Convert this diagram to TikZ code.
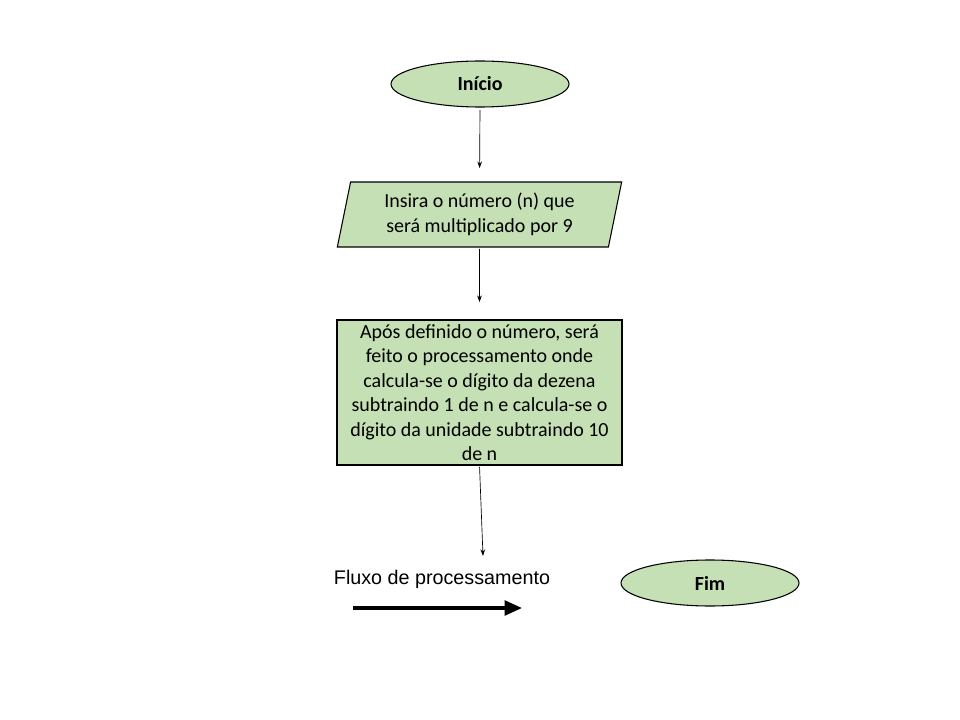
\documentclass[tikz,border=0pt]{standalone}
\usepackage{fontspec}
\setmainfont{Carlito}
\newfontfamily\legendfont{Liberation Sans}
\usetikzlibrary{shapes.geometric,arrows.meta}
\definecolor{boxgreen}{RGB}{197,224,180}

\begin{document}
\begin{tikzpicture}[
    x=0.75pt, y=-0.75pt,
    every node/.style={font=\fontsize{15}{18.4}\selectfont, align=center},
    terminal/.style={ellipse, draw=black, fill=boxgreen, line width=0.8pt,
        minimum width=133.5pt, minimum height=34.5pt, inner sep=0pt,
        font=\bfseries\fontsize{15}{18.4}\selectfont},
    inout/.style={trapezium, trapezium left angle=77, trapezium right angle=103,
        trapezium stretches=true, draw=black, fill=boxgreen, line width=0.8pt,
        minimum width=213.75pt, minimum height=48.75pt, inner sep=0pt},
    process/.style={rectangle, draw=black, fill=boxgreen, line width=0.8pt,
        minimum width=213.75pt, minimum height=108.75pt, inner sep=0pt},
    flow/.style={-{Stealth[length=5pt,width=3.5pt]}, line width=0.5pt, black}]

    \useasboundingbox (0,0) rectangle (960,720);

    \node[terminal] (inicio) at (480,84) {Início};
    \node[inout] (entrada) at (479.5,214.5) {Insira o número (n) que\\será multiplicado por 9};
    \node[process] (calculo) at (479.5,392.5) {Após definido o número, será\\feito o processamento onde\\calcula-se o dígito da dezena\\subtraindo 1 de n e calcula-se o\\dígito da unidade subtraindo 10\\de n};
    \node[terminal] (fim) at (710,583) {Fim};
    \coordinate (saida) at (483,556);

    \draw[flow, shorten <=2pt, shorten >=10pt] (inicio.south) -- (entrada.north);
    \draw[flow, shorten <=1pt, shorten >=13pt] (entrada.south) -- (calculo.north);
    \draw[flow, shorten <=1pt] (calculo.south) -- (saida);

    % legenda
    \node[font=\legendfont\fontsize{14.8}{17}\selectfont] (legenda) at (442,579) {Fluxo de processamento};
    \coordinate (seta-ini) at (353,608);
    \coordinate (seta-fim) at (522,608);
    \draw[-{Triangle[length=13pt,width=11pt]}, line width=2.5pt] (seta-ini) -- (seta-fim);

\end{tikzpicture}
\end{document}
